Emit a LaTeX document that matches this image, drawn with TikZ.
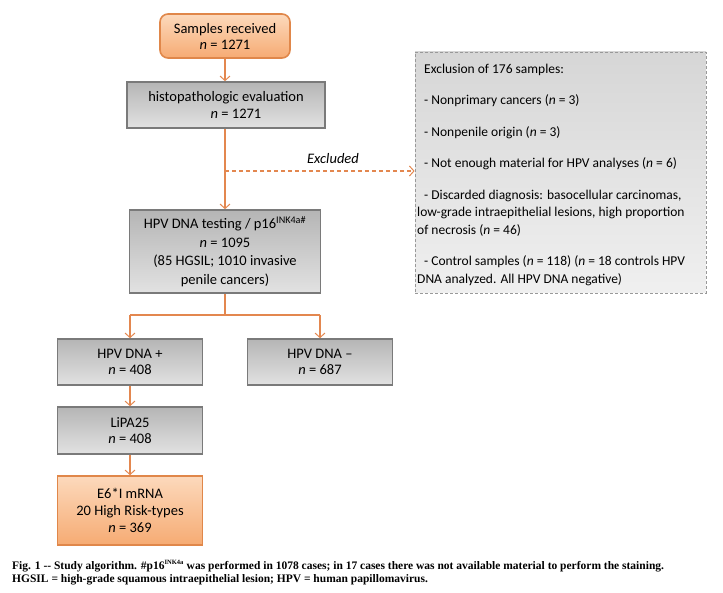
\documentclass[tikz,border=0pt]{standalone}
\usepackage{fontspec}
\setmainfont{Carlito}
\newfontfamily\capfont{Liberation Serif}
\usetikzlibrary{arrows.meta}
\definecolor{orline}{HTML}{E3874F}
\definecolor{orborder}{HTML}{E0874A}
\definecolor{ortop}{HTML}{FCD9BC}
\definecolor{orbot}{HTML}{F6AB73}
\definecolor{grtop}{HTML}{B5B5B5}
\definecolor{grbot}{HTML}{E2E2E2}
\definecolor{grborder}{HTML}{7A7A7A}
\tikzset{
  box/.style={draw=grborder, line width=1.6pt, top color=grtop, bottom color=grbot,
    align=center, inner sep=0pt, font=\fontsize{14.5}{17}\selectfont},
  obox/.style={draw=orborder, line width=1.6pt, top color=ortop, bottom color=orbot,
    align=center, inner sep=0pt, font=\fontsize{14.5}{17}\selectfont},
  conn/.style={draw=orline, line width=1.2pt},
  arr/.style={conn, -{Straight Barb[length=4.5pt,width=10pt,line width=1pt]}},
  darr/.style={arr, dash pattern=on 4pt off 3pt},
  exbox/.style={draw=gray!80, line width=0.8pt, dash pattern=on 3pt off 2pt,
    top color=gray!32, bottom color=gray!12, inner sep=0pt},
}
\begin{document}
\begin{tikzpicture}[x=1pt,y=-1pt]
\useasboundingbox (0,0) rectangle (723,593);
\node[obox, rounded corners=8pt, minimum width=130pt, minimum height=44pt,
  font=\fontsize{14.5}{16}\selectfont] (samp) at (225,36)
  {Samples received\\\textit{n} = 1271};
\node[box, minimum width=198pt, minimum height=46pt] (histo) at (226,105)
  {histopathologic evaluation\\\hspace*{20pt}\textit{n} = 1271};
\node[box, minimum width=191pt, minimum height=83pt, font=\fontsize{14.5}{18.5}\selectfont] (hpv) at (225,251.5)
  {HPV DNA testing / p16\textsuperscript{INK4a\#}\\\textit{n} = 1095\\(85 HGSIL; 1010 invasive\\penile cancers)};
\node[box, minimum width=145pt, minimum height=46pt, font=\fontsize{14.5}{16}\selectfont] (pos) at (130,362)
  {HPV DNA +\\\textit{n} = 408};
\node[box, minimum width=145pt, minimum height=46pt, font=\fontsize{14.5}{16}\selectfont] (neg) at (320,362)
  {HPV DNA --\\\textit{n} = 687};
\node[box, minimum width=145pt, minimum height=47pt, font=\fontsize{14.5}{16}\selectfont] (lipa) at (130,430.5)
  {LiPA25\\\textit{n} = 408};
\node[obox, minimum width=145pt, minimum height=69pt] (e6) at (130,510.5)
  {E6*I mRNA\\20 High Risk-types\\\textit{n} = 369};
\node[exbox, minimum width=291pt, minimum height=241pt] (excl) at (560.5,172.5) {};
\node[anchor=north west, inner sep=0pt, align=left, font=\fontsize{13.5}{17.5}\selectfont] (extext) at (417,63.5)
  {\hspace*{7pt}Exclusion of 176 samples:\\[14pt]
   \hspace*{7pt}- Nonprimary cancers (\textit{n} = 3)\\[14pt]
   \hspace*{7pt}- Nonpenile origin (\textit{n} = 3)\\[14pt]
   \hspace*{7pt}- Not enough material for HPV analyses (\textit{n} = 6)\\[14pt]
   \hspace*{7pt}- Discarded diagnosis: basocellular carcinomas,\\
   low-grade intraepithelial lesions, high proportion\\
   of necrosis (\textit{n} = 46)\\[14pt]
   \hspace*{7pt}- Control samples (\textit{n} = 118) (\textit{n} = 18 controls HPV\\
   DNA analyzed. All HPV DNA negative)};
% connectors
\draw[arr] (samp.south) -- (samp.south |- histo.north);
\draw[arr] (histo.south -| hpv.north) -- (hpv.north);
\coordinate (br) at (225,171);
\draw[darr] (br) -- (br -| excl.west);
\node[font=\fontsize{14.5}{16}\selectfont\itshape, anchor=base] (exl) at (333,164) {Excluded};
\coordinate (sp) at (225,315);
\draw[conn] (hpv.south) -- (sp);
\draw[conn] (pos.north |- sp) -- (neg.north |- sp);
\draw[arr] (pos.north |- sp) -- (pos.north);
\draw[arr] (neg.north |- sp) -- (neg.north);
\draw[arr] (pos.south) -- (lipa.north);
\draw[arr] (lipa.south) -- (e6.north);
% caption
\node[anchor=base west, inner sep=0pt, font=\capfont\bfseries\fontsize{11.5}{13}\selectfont] (cap1) at (12,569)
  {Fig. 1 -- Study algorithm. \#p16\textsuperscript{\fontsize{6.5}{7}\selectfont INK4a} was performed in 1078 cases; in 17 cases there was not available material to perform the staining.};
\node[anchor=base west, inner sep=0pt, font=\capfont\bfseries\fontsize{11.5}{13}\selectfont] (cap2) at (12,582)
  {HGSIL = high-grade squamous intraepithelial lesion; HPV = human papillomavirus.};
\end{tikzpicture}
\end{document}
